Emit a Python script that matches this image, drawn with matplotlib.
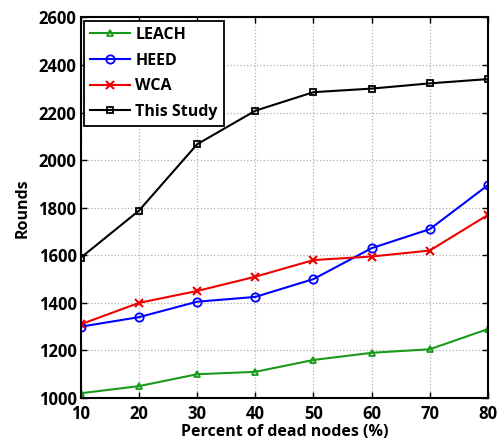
import matplotlib
matplotlib.use("Agg")
import matplotlib.pyplot as plt

x = [10, 20, 30, 40, 50, 60, 70, 80]
leach = [1020, 1050, 1100, 1110, 1160, 1190, 1205, 1290]
heed = [1300, 1340, 1405, 1425, 1500, 1630, 1710, 1895]
wca = [1310, 1400, 1450, 1510, 1580, 1595, 1620, 1770]
this_study = [1590, 1788, 2067, 2208, 2286, 2301, 2323, 2341]
yticks = [1000, 1200, 1400, 1600, 1800, 2000, 2200, 2400, 2600]

plt.rcParams['font.family'] = ['Open Sans', 'DejaVu Sans']
plt.rcParams['font.weight'] = 'bold'

fig = plt.figure(figsize=(5.02, 4.44), dpi=100)
ax = fig.add_axes([0.161, 0.1036, 0.811, 0.857])

ax.plot(x, leach, color='#1a9a1a', marker='^', ms=5, lw=1.5, mfc='none', mew=1.3, label='LEACH')
ax.plot(x, heed, color='#0000ff', marker='o', ms=6, lw=1.5, mfc='none', mew=1.3, label='HEED')
ax.plot(x, wca, color='#ee0000', marker='x', ms=6, lw=1.5, mew=1.5, label='WCA')
ax.plot(x, this_study, color='black', marker='s', ms=5, lw=1.5, mfc='none', mew=1.3, label='This Study')

ax.set_xlim(10, 80)
ax.set_ylim(1000, 2600)
ax.set_xticks(x)
ax.set_yticks(yticks)
ax.grid(True, color='#b0b0b0', linestyle=':', linewidth=0.9)
ax.tick_params(direction='in', length=4, width=1, labelsize=12, top=True, right=True)
ax.tick_params(axis='x', pad=5)
ax.tick_params(axis='y', pad=3)
for lab in ax.get_xticklabels() + ax.get_yticklabels():
    lab.set_fontweight('bold')
for s in ax.spines.values():
    s.set_linewidth(1.5)

ax.set_xlabel('Percent of dead nodes (%)', fontsize=11.5, fontweight='bold', labelpad=1)
ax.set_ylabel('Rounds', fontsize=11.5, fontweight='bold', labelpad=6)

leg = ax.legend(loc='upper left', fontsize=11.5, frameon=True, fancybox=False,
                edgecolor='black', framealpha=1, borderaxespad=0.2, handlelength=2.5,
                handletextpad=0.3, labelspacing=0.6, borderpad=0.4)
leg.get_frame().set_linewidth(1.3)
for t in leg.get_texts():
    t.set_fontweight('bold')

fig.savefig('out.png', dpi=100)
